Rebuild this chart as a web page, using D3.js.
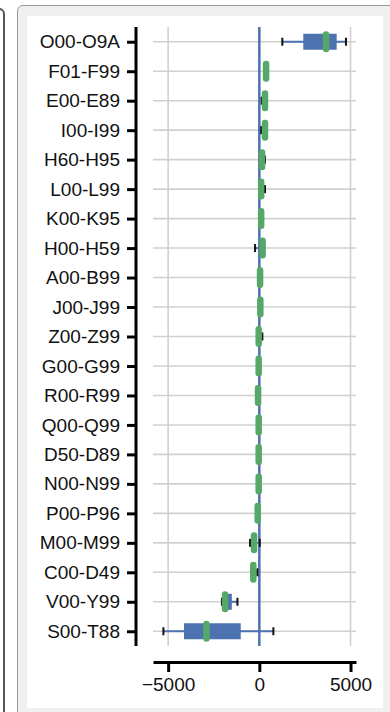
<!DOCTYPE html>
<html>
<head>
<meta charset="utf-8">
<script src="https://cdn.jsdelivr.net/npm/d3@7"></script>
<style>
  html, body { margin: 0; padding: 0; background: #fff; }
  body { width: 390px; height: 712px; overflow: hidden; position: relative; }
  .prev { position: absolute; left: -20px; top: 8px; width: 21px; height: 720px;
          border: 2px solid #555; border-radius: 6px; }
  .card { position: absolute; left: 17px; top: 5px; width: 390px; height: 720px;
          background: #f0f0f0; border: 1px solid #999; border-radius: 6px; }
  .inner { position: absolute; left: 27px; top: 16px; width: 356px; height: 692px; background: #fff; }
  svg { position: absolute; left: 0; top: 0; }
  text { font-family: Arial, "Liberation Sans", sans-serif; }
</style>
</head>
<body>
<div class="prev"></div>
<div class="card"></div>
<div class="inner"></div>
<div id="chart"></div>
<script>
// ICD chapter groups, top to bottom
const categories = ["O00-O9A","F01-F99","E00-E89","I00-I99","H60-H95","L00-L99","K00-K95","H00-H59",
    "A00-B99","J00-J99","Z00-Z99","G00-G99","R00-R99","Q00-Q99","D50-D89","N00-N99","P00-P96",
    "M00-M99","C00-D49","V00-Y99","S00-T88"];
const whiskerLo = [1260, 300, 130, 100, 90, 40, 50, -235, -10, 10, -90, -100, -130, -90, -90, -90, -150, -510, -420, -2050, -5260];
const q1        = [2410, 330, 260, 250, 120, 80, 80, 120, 20, 30, -60, -60, -90, -60, -60, -60, -120, -380, -380, -1950, -4130];
const medians   = [3660, 370, 310, 310, 150, 100, 100, 180, 40, 55, -35, -35, -70, -35, -35, -35, -90, -290, -330, -1880, -2900];
const q3        = [4240, 410, 350, 350, 200, 150, 130, 220, 70, 80, 0, -10, -40, -10, -10, -10, -60, -160, -200, -1510, -1020];
const whiskerHi = [4750, 440, 400, 380, 310, 310, 170, 260, 100, 110, 165, 20, 0, 20, 20, 20, -30, 20, -110, -1200, 770];
const xTicks = [-5000, 0, 5000];

const data = categories.map((c, i) => ({
    cat: c, lo: whiskerLo[i], q1: q1[i], med: medians[i], q3: q3[i], hi: whiskerHi[i]
}));

const blue = "#4c72b0", green = "#55a868", grid = "#d0d0d0";

const svg = d3.select("#chart").append("svg")
    .attr("width", 390)
    .attr("height", 712);

const x = d3.scaleLinear()
    .domain([-5830, 5300])
    .range([153, 356]);

const y = d3.scalePoint()
    .domain(categories)
    .range([27, 646])
    .padding(0.5);

// grid
svg.append("g")
    .selectAll("line")
    .data(xTicks)
    .enter()
    .append("line")
    .attr("x1", d => x(d)).attr("x2", d => x(d))
    .attr("y1", 27).attr("y2", 646)
    .attr("stroke", grid).attr("stroke-width", 1.6);

svg.append("g")
    .selectAll("line")
    .data(categories)
    .enter()
    .append("line")
    .attr("x1", 153).attr("x2", 356)
    .attr("y1", d => y(d)).attr("y2", d => y(d))
    .attr("stroke", grid).attr("stroke-width", 1.6);

// zero line
svg.append("line")
    .attr("x1", x(0)).attr("x2", x(0))
    .attr("y1", 27).attr("y2", 646)
    .attr("stroke", blue).attr("stroke-width", 2.5);

const boxH = 16, capH = 8, medH = 14.5;

const g = svg.append("g")
    .selectAll("g")
    .data(data)
    .enter()
    .append("g")
    .attr("transform", d => "translate(0," + y(d.cat) + ")");

g.append("line")
    .attr("x1", d => x(d.lo)).attr("x2", d => x(d.hi))
    .attr("y1", 0).attr("y2", 0)
    .attr("stroke", blue).attr("stroke-width", 2);

g.append("rect")
    .attr("x", d => x(d.q1))
    .attr("width", d => x(d.q3) - x(d.q1))
    .attr("y", -boxH / 2)
    .attr("height", boxH)
    .attr("fill", blue);

g.selectAll(".cap")
    .data(d => [d.lo, d.hi])
    .enter()
    .append("line")
    .attr("x1", v => x(v)).attr("x2", v => x(v))
    .attr("y1", -capH / 2).attr("y2", capH / 2)
    .attr("stroke", "#111").attr("stroke-width", 2);

g.append("line")
    .attr("x1", d => x(d.med)).attr("x2", d => x(d.med))
    .attr("y1", -medH / 2).attr("y2", medH / 2)
    .attr("stroke", green).attr("stroke-width", 6.5)
    .attr("stroke-linecap", "round");

// y axis, offset to the left
const yAxis = svg.append("g")
    .attr("transform", "translate(136,0)")
    .call(d3.axisLeft(y).tickSize(9).tickPadding(7).tickSizeOuter(0));
yAxis.select(".domain").attr("stroke-width", 3).attr("d", "M0,27V646");
yAxis.selectAll(".tick line").attr("stroke-width", 3);
yAxis.selectAll("text").attr("font-size", 19).attr("fill", "#111");

// x axis, offset below
const xAxis = svg.append("g")
    .attr("transform", "translate(0,662)")
    .call(d3.axisBottom(x).tickValues(xTicks).tickFormat(d3.format("d"))
        .tickSize(10).tickPadding(6).tickSizeOuter(0));
xAxis.select(".domain").attr("stroke-width", 3);
xAxis.selectAll(".tick line").attr("stroke-width", 3);
xAxis.selectAll("text").attr("font-size", 19).attr("fill", "#111");
</script>
</body>
</html>
